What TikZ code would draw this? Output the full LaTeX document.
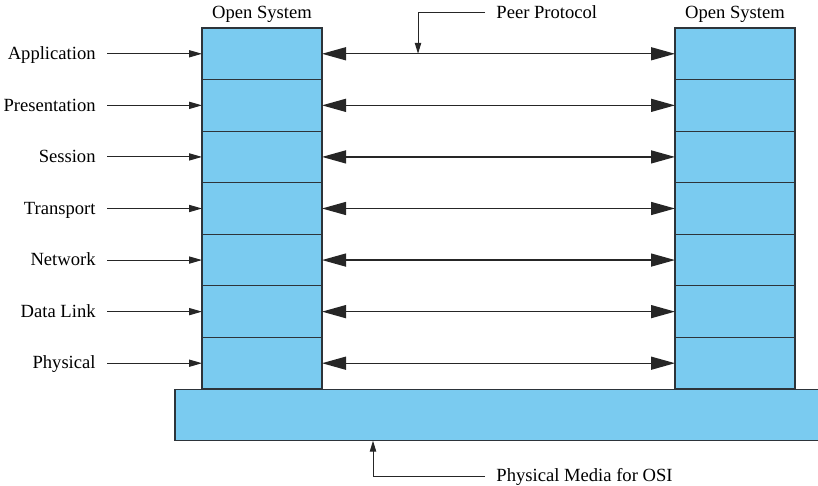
\documentclass[tikz,border=0pt]{standalone}
\usepackage{fontspec}
\setmainfont{Liberation Serif}
\usepackage{tikz}
\usetikzlibrary{arrows.meta,positioning,calc}
\definecolor{layerblue}{RGB}{122, 203, 240}
\definecolor{edgegray}{RGB}{45, 52, 58}

\begin{document}
\begin{tikzpicture}[
  x=0.5pt, y=-0.5pt,
  font=\fontsize{9.3}{11}\selectfont,
  layer/.style={draw=edgegray, line width=0.6pt, fill=layerblue, minimum width=60pt, minimum height=25.785pt, inner sep=0pt, outer sep=0pt},
  medium/.style={draw=edgegray, line width=0.6pt, fill=layerblue, minimum width=325pt, minimum height=25.7pt, inner sep=0pt, outer sep=0pt, anchor=north west},
  txt/.style={text height=1.5ex, text depth=.25ex, inner xsep=5.5pt},
  inarr/.style={-{Triangle[length=6.5pt, width=3.6pt]}, line width=0.5pt, color=black!85},
  callarr/.style={-{Triangle[length=5.5pt, width=3.2pt]}, line width=0.5pt, color=black!85},
  peer/.style={{Triangle[length=12pt, width=6.5pt]}-{Triangle[length=12pt, width=6.5pt]}, line width=0.7pt, color=black!85}
]
\useasboundingbox (0,0) rectangle (818,486);
% Physical media
\node[medium] (bar) at (175,389.3) {};
% Stacks, labels and peer arrows
\foreach \name [count=\i] in {Application,Presentation,Session,Transport,Network,Data Link,Physical} {
  \node[layer] (L\i) at (262,{28+51.57*(\i-0.5)}) {};
  \node[layer] (R\i) at (735,{28+51.57*(\i-0.5)}) {};
  \node[txt, left=47.5pt of L\i] (n\i) {\name};
  \draw[inarr] (n\i) -- (L\i);
  \draw[peer] (L\i) -- (R\i);
}
% Headings
\node[txt, above=0pt of L1] (os1) {Open System};
\node[txt, above=0pt of R1] (os2) {Open System};
% Callouts
\node[txt, anchor=west] (pp) at (485,13) {Peer Protocol};
\coordinate (pptip) at ($(L1.east)!0.272!(R1.west)$);
\draw[callarr] (pp.west) -| (pptip);
\node[txt, anchor=west] (pm) at (485,476) {Physical Media for OSI};
\coordinate (pmtip) at (373,440.7);
\draw[callarr] (pm.west) -| (pmtip);
\end{tikzpicture}
\end{document}
